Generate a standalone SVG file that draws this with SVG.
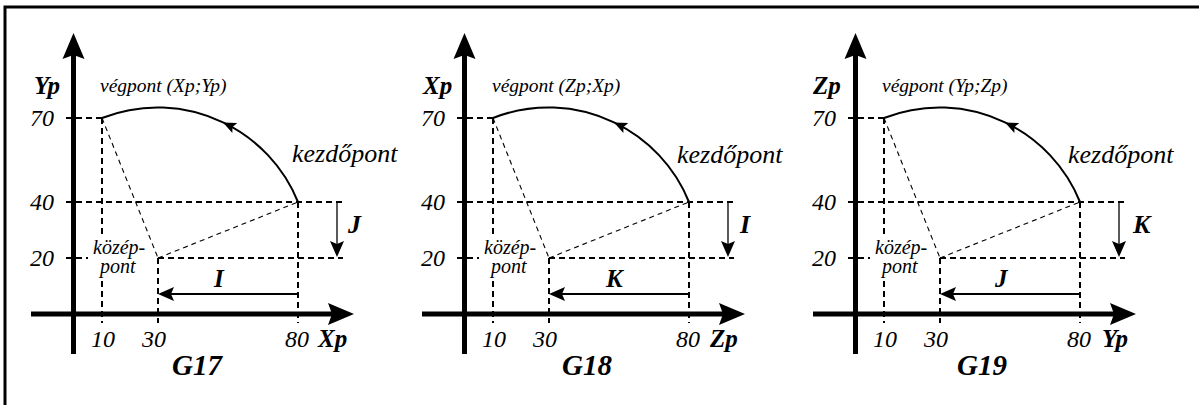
<svg xmlns="http://www.w3.org/2000/svg" xmlns:xlink="http://www.w3.org/1999/xlink" width="1199" height="405" viewBox="0 0 1199 405">
<style>
  .ax{stroke:#000;stroke-width:5;fill:none}
  .dash{stroke:#000;stroke-width:2;stroke-dasharray:6 4;fill:none}
  .tdash{stroke:#000;stroke-width:1.1;stroke-dasharray:5 4;fill:none}
  .arc{stroke:#000;stroke-width:2;fill:none}
  .vec{stroke:#000;fill:none}
</style>
<defs>
  <marker id="ah" markerUnits="userSpaceOnUse" viewBox="0 0 16 14" markerWidth="16" markerHeight="14" refX="13" refY="7" orient="auto">
    <path d="M0,0 L16,7 L0,14 L3,7 Z" fill="#000"/>
  </marker>
  <marker id="am" markerUnits="userSpaceOnUse" viewBox="0 0 13 11" markerWidth="13" markerHeight="11" refX="13" refY="5.5" orient="auto">
    <path d="M0,0 L13,5.5 L0,11 L2.5,5.5 Z" fill="#000"/>
  </marker>
  <g id="base">
    <line class="ax" x1="73.5" y1="50" x2="73.5" y2="354"/>
    <path d="M73.5,33 L84.5,59 L73.5,55 L62.5,59 Z" fill="#000"/>
    <line class="ax" x1="31" y1="314" x2="338" y2="314"/>
    <path d="M354,314 L328,303 L332,314 L328,325 Z" fill="#000"/>
    <line class="dash" x1="66" y1="118" x2="102" y2="118"/>
    <line class="dash" x1="102" y1="118" x2="102" y2="236"/>
    <line class="dash" x1="102" y1="281" x2="102" y2="323"/>
    <line class="dash" x1="66" y1="202" x2="343" y2="202"/>
    <line class="dash" x1="66" y1="258" x2="88" y2="258"/>
    <line class="dash" x1="158" y1="258" x2="343" y2="258"/>
    <line class="dash" x1="158" y1="258" x2="158" y2="323"/>
    <line class="dash" x1="298" y1="202" x2="298" y2="323"/>
    <line class="tdash" x1="102" y1="118" x2="158" y2="258"/>
    <line class="tdash" x1="158" y1="258" x2="298" y2="202"/>
    <path class="arc" d="M298,202 A150.8,150.8 0 0 0 223,122.4 A150.8,150.8 0 0 0 102,118" marker-mid="url(#am)"/>
    <line class="vec" stroke-width="1.3" x1="337" y1="203" x2="337" y2="254" marker-end="url(#ah)"/>
    <line class="vec" stroke-width="2" x1="297" y1="294" x2="161" y2="294" marker-end="url(#ah)"/>
    <g font-family="'Liberation Serif', 'DejaVu Serif', serif" font-style="italic" fill="#000">
      <text font-size="24" x="54" y="126" text-anchor="end">70</text>
      <text font-size="24" x="54" y="210" text-anchor="end">40</text>
      <text font-size="24" x="54" y="266" text-anchor="end">20</text>
      <text font-size="24" x="103" y="347" text-anchor="middle">10</text>
      <text font-size="24" x="154" y="347" text-anchor="middle">30</text>
      <text font-size="24" x="297" y="347" text-anchor="middle">80</text>
      <text font-size="20" x="93" y="254">közép-</text>
      <text font-size="20" x="100" y="273">pont</text>
    </g>
  </g>
</defs>

<path d="M5,405 V7 H1199" stroke="#000" stroke-width="3" fill="none"/>

<g id="panel-g17" font-family="'Liberation Serif', 'DejaVu Serif', serif" font-style="italic" fill="#000">
  <use xlink:href="#base" href="#base"/>
  <text font-weight="bold" font-size="25" x="34" y="94">Yp</text>
  <text font-size="19.5" x="100" y="92">végpont (Xp;Yp)</text>
  <text font-size="26" x="292" y="162">kezdőpont</text>
  <text font-weight="bold" font-size="26" x="348" y="233">J</text>
  <text font-weight="bold" font-size="25" x="214" y="287">I</text>
  <text font-weight="bold" font-size="25" x="318" y="347">Xp</text>
  <text font-weight="bold" font-size="29" x="172" y="375">G17</text>
</g>

<g id="panel-g18" transform="translate(391,0)" font-family="'Liberation Serif', 'DejaVu Serif', serif" font-style="italic" fill="#000">
  <use xlink:href="#base" href="#base"/>
  <text font-weight="bold" font-size="25" x="32" y="94">Xp</text>
  <text font-size="19.5" x="101" y="92">végpont (Zp;Xp)</text>
  <text font-size="26" x="286" y="163">kezdőpont</text>
  <text font-weight="bold" font-size="26" x="349" y="233">I</text>
  <text font-weight="bold" font-size="25" x="215" y="287">K</text>
  <text font-weight="bold" font-size="25" x="319" y="347">Zp</text>
  <text font-weight="bold" font-size="29" x="171" y="375">G18</text>
</g>

<g id="panel-g19" transform="translate(782,0)" font-family="'Liberation Serif', 'DejaVu Serif', serif" font-style="italic" fill="#000">
  <use xlink:href="#base" href="#base"/>
  <text font-weight="bold" font-size="25" x="31" y="94">Zp</text>
  <text font-size="19.5" x="100" y="92">végpont (Yp;Zp)</text>
  <text font-size="26" x="286" y="163">kezdőpont</text>
  <text font-weight="bold" font-size="26" x="351" y="233">K</text>
  <text font-weight="bold" font-size="25" x="213" y="287">J</text>
  <text font-weight="bold" font-size="25" x="320" y="347">Yp</text>
  <text font-weight="bold" font-size="29" x="175" y="375">G19</text>
</g>
</svg>
